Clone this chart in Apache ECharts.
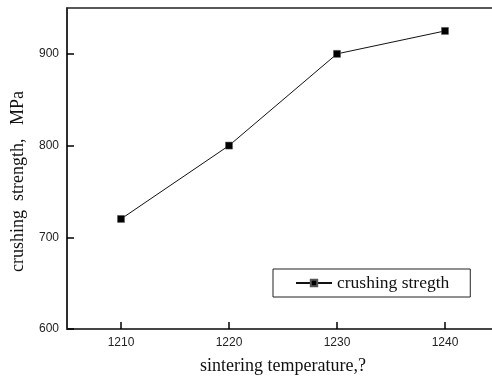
<!DOCTYPE html>
<html>
<head>
<meta charset="utf-8">
<script src="https://cdn.jsdelivr.net/npm/echarts@6/dist/echarts.min.js"></script>
<style>
  html, body { margin: 0; padding: 0; background: #fff; }
  #chart { width: 492px; height: 381px; }
</style>
</head>
<body>
<div id="chart"></div>
<script>
// sintering temperature vs crushing strength
const temperatures = [1210, 1220, 1230, 1240];
const strength = [720, 800, 900, 925];
const xRange = [1205, 1245];
const yRange = [600, 950];
const yStep = 100;

const chart = echarts.init(document.getElementById('chart'));

const serif = '"Liberation Serif", "Times New Roman", serif';
const sans = '"Liberation Sans", Arial, sans-serif';

chart.setOption({
  animation: false,
  grid: {
    left: 67,
    right: -7,
    top: 8,
    bottom: 52,
    outerBoundsMode: 'none',
    containLabel: false,
    show: true,
    borderColor: '#222',
    borderWidth: 1.5
  },
  legend: {
    data: ['crushing stregth'],
    left: 273,
    top: 269,
    itemWidth: 36,
    itemHeight: 8,
    padding: [5, 21, 5, 22],
    backgroundColor: '#fff',
    borderColor: '#222',
    borderWidth: 1,
    borderRadius: 0,
    textStyle: { fontFamily: serif, fontSize: 17.5, color: '#111' }
  },
  xAxis: {
    type: 'value',
    min: xRange[0],
    max: xRange[1],
    splitNumber: 4,
    z: 5,
    name: 'sintering temperature,?',
    nameLocation: 'middle',
    nameGap: 28,
    nameTextStyle: { fontFamily: serif, fontSize: 18, color: '#111' },
    axisLine: { show: true, lineStyle: { color: '#444', width: 2 } },
    axisTick: { show: true, inside: true, length: 7, lineStyle: { color: '#000', width: 1.5 } },
    axisLabel: { showMinLabel: false, showMaxLabel: false, formatter: v => String(v), fontFamily: sans, fontSize: 12, color: '#222', margin: 8 },
    splitLine: { show: false }
  },
  yAxis: {
    type: 'value',
    min: yRange[0],
    max: yRange[1],
    interval: yStep,
    z: 5,
    name: 'crushing  strength,   MPa',
    nameLocation: 'middle',
    nameGap: 40,
    nameTextStyle: { fontFamily: serif, fontSize: 18, color: '#111', padding: [0, 26, 0, 0] },
    axisLine: { show: true, lineStyle: { color: '#222', width: 1.5 } },
    axisTick: { show: true, inside: true, length: 7, lineStyle: { color: '#000', width: 1.5 } },
    axisLabel: { showMaxLabel: false, formatter: v => String(v), fontFamily: sans, fontSize: 12, color: '#222', margin: 8 },
    splitLine: { show: false }
  },
  series: [{
    name: 'crushing stregth',
    type: 'line',
    data: temperatures.map((t, i) => [t, strength[i]]),
    symbol: 'rect',
    symbolSize: 7,
    itemStyle: { color: '#000', borderColor: '#555', borderWidth: 0.5 },
    lineStyle: { color: '#111', width: 1 }
  }]
});
</script>
</body>
</html>
